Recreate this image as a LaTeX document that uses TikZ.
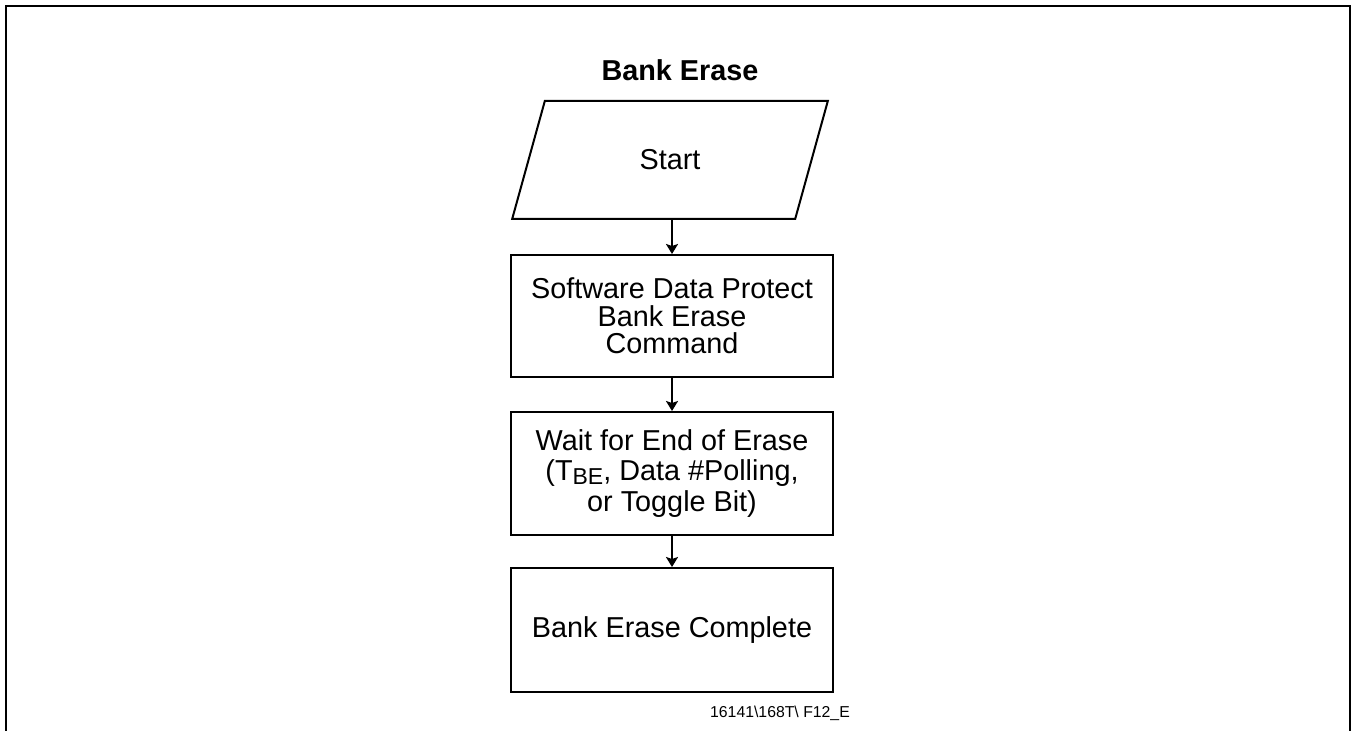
\documentclass[tikz,border=0pt]{standalone}
\usepackage{fontspec}
\setmainfont{Liberation Sans}
\usetikzlibrary{shapes.geometric,arrows.meta,positioning}

\tikzset{
  stepbox/.style={rectangle, draw, line width=1pt, minimum width=161pt, minimum height=61pt, align=center, font=\fontsize{14.4pt}{13.75pt}\selectfont},
  flow/.style={line width=1pt, -{Stealth[length=5pt,width=6pt,inset=1pt]}}
}

\begin{document}
\begin{tikzpicture}[x=0.5pt, y=-0.5pt]
	\useasboundingbox (0,0) rectangle (1355,731);
	\draw[line width=1.2pt] (6,731) -- (6,6) -- (1350,6) -- (1350,731);
	
	\node[font=\bfseries\fontsize{14.4pt}{16pt}\selectfont] (titolo) at (680,70) {Bank Erase};
	\node[trapezium, draw, line width=1pt, trapezium left angle=74, trapezium right angle=106, trapezium stretches=true, minimum width=158.5pt, minimum height=59pt, font=\fontsize{14.4pt}{16pt}\selectfont] (start) at (670,160) {Start};
	\node[stepbox, below=17pt of start, xshift=1pt] (comando) {Software Data Protect\\Bank Erase\\Command};
	\node[stepbox, below=16.5pt of comando, minimum height=61.5pt, font=\fontsize{14.4pt}{15.4pt}\selectfont] (attesa) {Wait for End of Erase\\(T\raisebox{-1.8pt}{\fontsize{11.5pt}{12pt}\selectfont BE}, Data \#Polling,\\or Toggle Bit)};
	\node[stepbox, below=15.5pt of attesa, minimum height=62pt] (fine) {Bank Erase Complete};
	
	\node[anchor=base, font=\fontsize{7.9pt}{9pt}\selectfont] (codice) at (780,718) {16141\textbackslash 168T\textbackslash{} F12\_E};
	
	\draw[flow] (start.south -| comando.north) -- (comando);
	\draw[flow] (comando) -- (attesa);
	\draw[flow] (attesa) -- (fine);
\end{tikzpicture}
\end{document}
